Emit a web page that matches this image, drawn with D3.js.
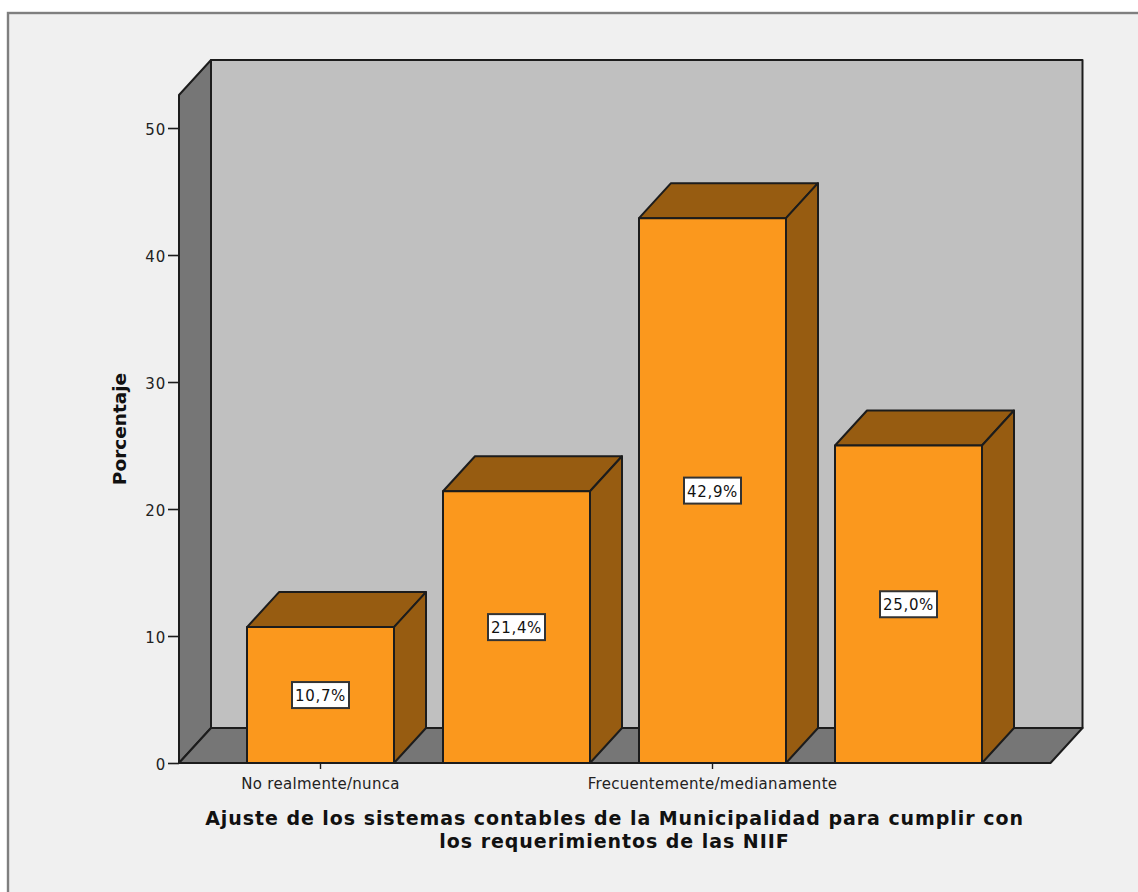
<!DOCTYPE html>
<html><head><meta charset="utf-8">
<script src="https://cdn.jsdelivr.net/npm/d3@7"></script>
<style>html,body{margin:0;padding:0;background:#fff}svg{display:block}text{font-family:"DejaVu Sans",sans-serif}</style>
</head><body><div id="chart"></div>
<script>
// The second and fourth bars have no label in the reference: their keys are neutral and never drawn.
const categories = ["No realmente/nunca", "(sin etiqueta 2)", "Frecuentemente/medianamente", "(sin etiqueta 4)"];
const shownLabels = ["No realmente/nunca", "Frecuentemente/medianamente"];
const values = [10.7, 21.4, 42.9, 25.0];
const dataLabels = ["10,7%", "21,4%", "42,9%", "25,0%"];
const yTicks = [0, 10, 20, 30, 40, 50];
const yTitle = "Porcentaje";
const xTitle = ["Ajuste de los sistemas contables de la Municipalidad para cumplir con", "los requerimientos de las NIIF"];

const W = 1138, H = 892, dx = 32, dy = -35;
const ink = "#1c1c1c";
const font = '"DejaVu Sans",sans-serif';
const svg = d3.select("#chart").append("svg").attr("width", W).attr("height", H);

// Frame
svg.append("rect").attr("width", W).attr("height", H).attr("fill", "#fff");
svg.append("rect").attr("x", 8).attr("y", 13).attr("width", W).attr("height", H).attr("fill", "#f0f0f0").attr("stroke", "#7f7f7f").attr("stroke-width", 2.4);

const y = d3.scaleLinear().domain([0, 52.6]).range([763, 95]);
const x = d3.scaleBand().domain(categories).range([247, 982]).paddingInner(0.25).paddingOuter(0);
const floorX = d3.scaleLinear().domain([0, 1]).range([179, 1050.5]);

const poly = (pts, fill, w = 2) => svg.append("path")
  .attr("d", d3.line()(pts) + "Z").attr("fill", fill).attr("stroke", ink)
  .attr("stroke-width", w).attr("stroke-linejoin", "round");

const x0 = floorX(0), x1 = floorX(1), yB = y(0), yT = y.range()[1];
// Back wall, side wall, floor
poly([[x0 + dx, yB + dy], [x1 + dx, yB + dy], [x1 + dx, yT + dy], [x0 + dx, yT + dy]], "#c0c0c0");
poly([[x0, yB], [x0 + dx, yB + dy], [x0 + dx, yT + dy], [x0, yT]], "#767676");
poly([[x0, yB], [x1, yB], [x1 + dx, yB + dy], [x0 + dx, yB + dy]], "#767676");

// Bars
const dark = "#975c11", orange = "#fb981d";
categories.forEach((c, i) => {
  const l = x(c), r = l + x.bandwidth(), t = y(values[i]);
  poly([[l, t], [l + dx, t + dy], [r + dx, t + dy], [r, t]], dark);
  poly([[r, t], [r + dx, t + dy], [r + dx, yB + dy], [r, yB]], dark);
  poly([[l, t], [r, t], [r, yB], [l, yB]], orange);
});

// Axes
const yAxis = d3.axisLeft(y).tickValues(yTicks).tickSize(11).tickPadding(2).tickFormat(d3.format("d"));
const gy = svg.append("g").attr("transform", `translate(${x0},0)`).call(yAxis);
gy.select(".domain").remove();
gy.selectAll("line").attr("stroke", ink).attr("stroke-width", 1.6);
gy.selectAll("text").attr("font-size", 15).attr("letter-spacing", "0.8px").attr("fill", "#222").attr("font-family", font).attr("dy", "0.45em");

const xAxis = d3.axisBottom(x).tickValues(shownLabels).tickSize(6).tickPadding(9);
const gx = svg.append("g").attr("transform", `translate(0,${yB})`).call(xAxis);
gx.select(".domain").remove();
gx.selectAll("line").attr("stroke", ink).attr("stroke-width", 1.4);
gx.selectAll("text").attr("font-size", 15).attr("letter-spacing", "0.3px").attr("fill", "#222").attr("font-family", font);

// Data labels
categories.forEach((c, i) => {
  const cx = x(c) + x.bandwidth() / 2, cy = y(values[i] / 2);
  svg.append("rect").attr("x", cx - 28.5).attr("y", cy - 13).attr("width", 57).attr("height", 26)
    .attr("fill", "#fff").attr("stroke", "#333").attr("stroke-width", 2);
  svg.append("text").attr("x", cx).attr("y", cy + 6).attr("text-anchor", "middle")
    .attr("font-size", 15).attr("letter-spacing", "0.7px").attr("fill", "#111").text(dataLabels[i]);
});

// Titles
svg.append("text").attr("transform", "translate(126,429) rotate(-90)").attr("text-anchor", "middle")
  .attr("font-size", 18.5).attr("font-weight", "bold").attr("fill", "#111").text(yTitle);
const tx = 614.5;
xTitle.forEach((t, i) => svg.append("text").attr("x", tx).attr("y", 825 + i * 23)
  .attr("text-anchor", "middle").attr("font-size", 19).attr("font-weight", "bold")
  .attr("letter-spacing", "0.95px").attr("fill", "#111").text(t));
</script></body></html>
